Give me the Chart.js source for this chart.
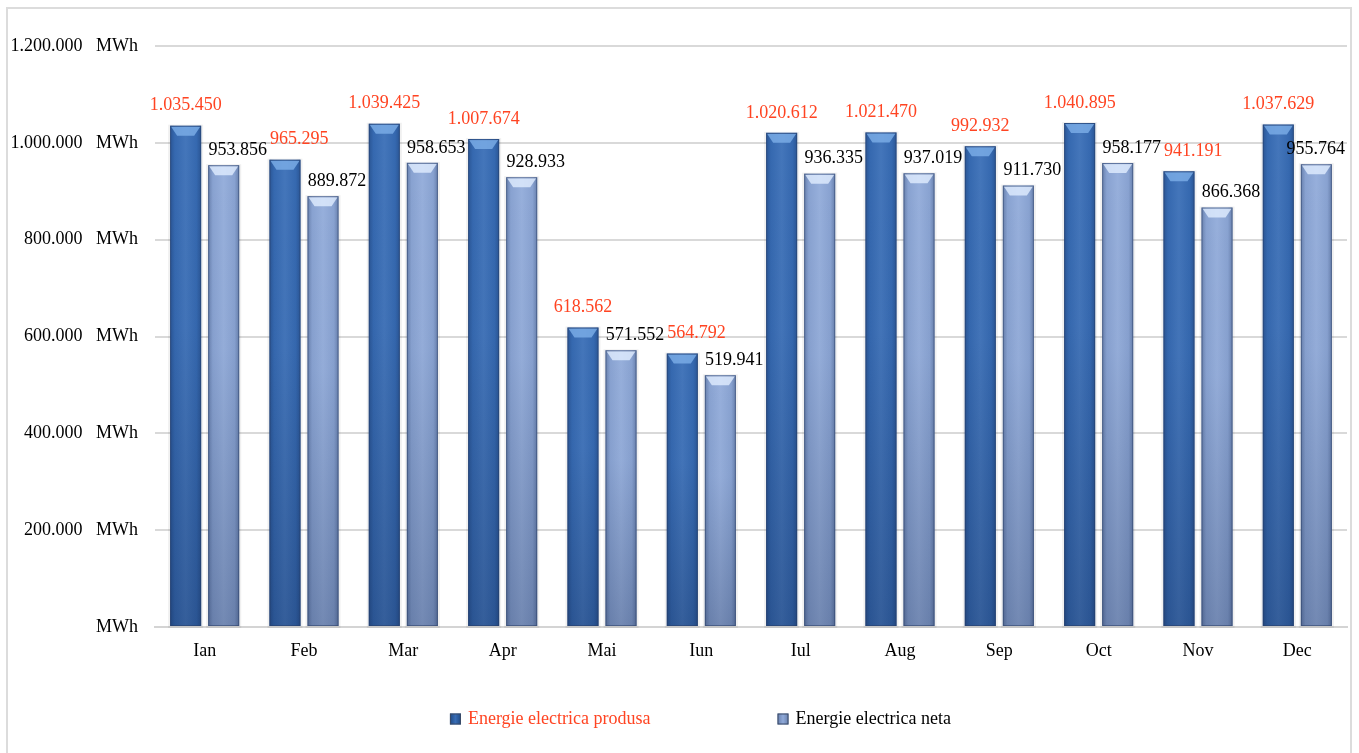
<!DOCTYPE html>
<html>
<head>
<meta charset="utf-8">
<script src="https://cdn.jsdelivr.net/npm/chart.js@4.4.1/dist/chart.umd.min.js"></script>
<style>
  html, body { margin: 0; padding: 0; background: #fff; }
  #wrap { position: relative; width: 1359px; height: 753px; }
  #frame { position: absolute; left: 6px; top: 7px; width: 1346px; height: 760px; border: 2px solid #dcdcdc; box-sizing: border-box; pointer-events: none; }
</style>
</head>
<body>
<div id="wrap">
  <canvas id="chart" width="1359" height="753"></canvas>
  <div id="frame"></div>
</div>
<script>
const luni = ['Ian', 'Feb', 'Mar', 'Apr', 'Mai', 'Iun', 'Iul', 'Aug', 'Sep', 'Oct', 'Nov', 'Dec'];
const produsa = [1035450, 965295, 1039425, 1007674, 618562, 564792, 1020612, 1021470, 992932, 1040895, 941191, 1037629];
const neta = [953856, 889872, 958653, 928933, 571552, 519941, 936335, 937019, 911730, 958177, 866368, 955764];
const serii = ['Energie electrica produsa', 'Energie electrica neta'];

const serif = "'Liberation Serif', 'Times New Roman', serif";
const rosu = '#FF4422';
const culori = ['#386DB6', '#90AAD9'];

function puncte(v) {
  return String(Math.round(v)).replace(/\B(?=(\d{3})+(?!\d))/g, '.');
}

// umbrire tip cilindru + teșitură sus
const bevel = {
  id: 'bevel',
  beforeDatasetDraw(chart, args) {
    const c = chart.ctx;
    c.save();
    c.fillStyle = 'rgba(0,0,0,0.06)';
    args.meta.data.forEach(bar => {
      const l = bar.x - bar.width / 2;
      c.fillRect(l - 2, bar.y - 1, bar.width + 4, bar.base - bar.y + 3);
    });
    c.restore();
  },
  afterDatasetDraw(chart, args) {
    const c = chart.ctx;
    const light = args.index === 1;
    args.meta.data.forEach(bar => {
      const l = bar.x - bar.width / 2, r = bar.x + bar.width / 2;
      const t = bar.y, b = bar.base;
      c.save();
      const g = c.createLinearGradient(l, 0, r, 0);
      g.addColorStop(0, 'rgba(10,30,70,0.30)');
      g.addColorStop(0.15, 'rgba(10,30,70,0.06)');
      g.addColorStop(0.5, 'rgba(255,255,255,0.06)');
      g.addColorStop(0.85, 'rgba(10,30,70,0.06)');
      g.addColorStop(1, 'rgba(10,30,70,0.30)');
      c.fillStyle = g;
      c.fillRect(l, t, r - l, b - t);
      const gv = c.createLinearGradient(0, t, 0, b);
      gv.addColorStop(0, 'rgba(0,0,0,0)');
      gv.addColorStop(0.4, 'rgba(10,25,60,0.02)');
      gv.addColorStop(1, 'rgba(10,25,60,0.25)');
      c.fillStyle = gv;
      c.fillRect(l, t, r - l, b - t);
      c.beginPath();
      c.moveTo(l + 1, t + 1);
      c.lineTo(r - 1, t + 1);
      c.lineTo(r - 7, t + 10);
      c.lineTo(l + 7, t + 10);
      c.closePath();
      c.fillStyle = light ? 'rgba(225,238,255,0.8)' : 'rgba(125,175,232,0.8)';
      c.fill();
      c.strokeStyle = 'rgba(40,60,100,0.5)';
      c.lineWidth = 1;
      c.strokeRect(l + 0.5, t + 0.5, r - l - 1, b - t - 1);
      c.restore();
    });
  }
};

// etichete valori, mutate la dreapta când se suprapun
const etichete = {
  id: 'etichete',
  afterDatasetsDraw(chart) {
    const c = chart.ctx;
    c.save();
    c.font = '18px ' + serif;
    c.textAlign = 'center';
    c.textBaseline = 'middle';
    const lista = [];
    chart.getDatasetMeta(0).data.forEach((bar, i) => {
      const txt = puncte(produsa[i]);
      lista.push({ txt, x: bar.x, y: bar.y - 20, w: c.measureText(txt).width, col: rosu });
    });
    chart.getDatasetMeta(1).data.forEach((bar, i) => {
      const txt = puncte(neta[i]);
      lista.push({ txt, x: bar.x + 14, y: bar.y - 15, w: c.measureText(txt).width, col: '#000' });
    });
    lista.sort((a, b) => a.x - b.x);
    const puse = [];
    lista.forEach(e => {
      puse.forEach(p => {
        if (Math.abs(p.y - e.y) < 18) {
          const min = p.x + p.w / 2 + e.w / 2 + 3;
          if (e.x < min && e.x > p.x - (p.w + e.w) / 2) e.x = min;
        }
      });
      e.x = Math.min(e.x, chart.chartArea.right - e.w / 2 - 2);
      puse.push(e);
      c.fillStyle = e.col;
      c.fillText(e.txt, e.x, e.y);
    });
    c.restore();
  }
};

// legenda jos
const legenda = {
  id: 'legenda',
  afterDraw(chart) {
    const c = chart.ctx;
    c.save();
    c.font = '18px ' + serif;
    c.textBaseline = 'middle';
    const y = 719, gap = 127, box = 11;
    const lat = serii.map(s => box + 7 + c.measureText(s).width);
    let x = chart.width / 2 + 21 - (lat[0] + gap + lat[1]) / 2;
    serii.forEach((s, i) => {
      const g = c.createLinearGradient(x, 0, x + box, 0);
      g.addColorStop(0, i === 0 ? '#1F4A85' : '#6880AE');
      g.addColorStop(0.5, culori[i]);
      g.addColorStop(1, i === 0 ? '#1F4A85' : '#6880AE');
      c.fillStyle = g;
      c.fillRect(x, y - box / 2, box, box);
      c.strokeStyle = '#3a4a66';
      c.lineWidth = 1;
      c.strokeRect(x + 0.5, y - box / 2 + 0.5, box - 1, box - 1);
      c.fillStyle = i === 0 ? rosu : '#000';
      c.fillText(s, x + box + 7, y);
      x += lat[i] + gap;
    });
    c.restore();
  }
};

new Chart(document.getElementById('chart').getContext('2d'), {
  type: 'bar',
  data: {
    labels: luni,
    datasets: [
      { label: serii[0], data: produsa, backgroundColor: culori[0], barPercentage: 0.816, categoryPercentage: 0.766 },
      { label: serii[1], data: neta, backgroundColor: culori[1], barPercentage: 0.816, categoryPercentage: 0.766 }
    ]
  },
  options: {
    responsive: false,
    animation: false,
    layout: { padding: { top: 46, left: 0, right: 12, bottom: 0 } },
    scales: {
      x: {
        grid: { display: false },
        border: { color: '#d4d4d4', width: 2 },
        ticks: { color: '#000', font: { family: serif, size: 18 }, padding: 5 },
        afterFit(scale) { scale.height = 126; }
      },
      y: {
        min: 0,
        max: 1200000,
        afterFit(scale) { scale.width = 155; },
        ticks: {
          stepSize: 200000,
          color: '#000',
          padding: 17,
          font: { family: serif, size: 18 },
          callback: v => v === 0 ? 'MWh' : puncte(v) + '   MWh'
        },
        grid: { color: '#d9d9d9', lineWidth: 2, drawTicks: false },
        border: { display: false }
      }
    },
    plugins: {
      tooltip: { enabled: false },
      legend: { display: false }
    }
  },
  plugins: [bevel, etichete, legenda]
});
</script>
</body>
</html>
